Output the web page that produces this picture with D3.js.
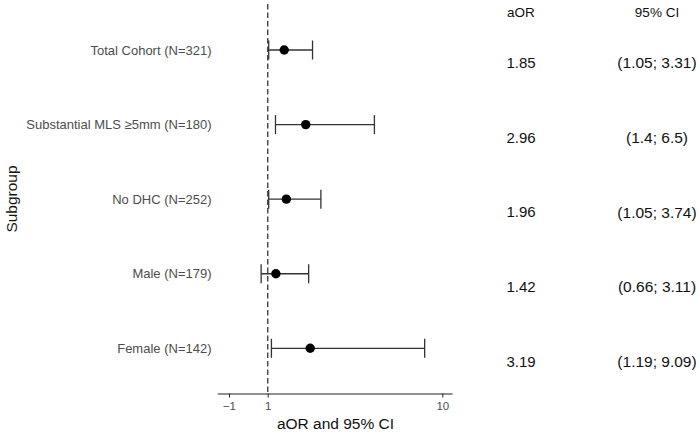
<!DOCTYPE html>
<html>
<head>
<meta charset="utf-8">
<script src="https://cdn.jsdelivr.net/npm/d3@7"></script>
<style>
  body { margin: 0; background: #fff; }
  svg { font-family: "Liberation Sans", Arial, sans-serif; }
</style>
</head>
<body>
<div id="chart"></div>
<script>
const width = 700, height = 437

var subgroups = ["Total Cohort (N=321)", "Substantial MLS \u22655mm (N=180)", "No DHC (N=252)", "Male (N=179)", "Female (N=142)"]
var aor = [1.85, 2.96, 1.96, 1.42, 3.19]
var lower = [1.05, 1.4, 1.05, 0.66, 1.19]
var upper = [3.31, 6.5, 3.74, 3.11, 9.09]
var ciText = ["(1.05; 3.31)", "(1.4; 6.5)", "(1.05; 3.74)", "(0.66; 3.11)", "(1.19; 9.09)"]
var xTicks = [-1, 1, 10]

const rows = subgroups.map((s, i) => ({ name: s, aor: aor[i], lo: lower[i], hi: upper[i], ci: ciText[i] }))

const svg = d3.select("#chart").append("svg")
  .attr("width", width)
  .attr("height", height)

const x = d3.scaleLinear().domain([-1.6, 10.5]).range([217.3, 452])
const y = d3.scalePoint().domain(subgroups).range([50, 348.3])
const axisY = 393.5

// x axis
const xAxis = svg.append("g")
  .attr("transform", `translate(0, ${axisY})`)
  .call(d3.axisBottom(x).tickValues(xTicks).tickSize(4).tickSizeOuter(0).tickFormat(d3.format("d")))
xAxis.select(".domain").attr("stroke", "#222").attr("stroke-width", 1.2)
xAxis.selectAll(".tick line").attr("stroke", "#222")
xAxis.selectAll("text")
  .attr("fill", "#4d4d4d")
  .style("font-size", "11.5px")
  .attr("y", 8)

// reference line at 1
svg.append("line")
  .attr("x1", x(1)).attr("x2", x(1))
  .attr("y1", 4).attr("y2", axisY)
  .attr("stroke", "#444")
  .attr("stroke-width", 1.4)
  .attr("stroke-dasharray", "5.5,3")

// error bars
const g = svg.selectAll(".row").data(rows).enter().append("g").attr("class", "row")
g.append("line")
  .attr("x1", d => x(d.lo)).attr("x2", d => x(d.hi))
  .attr("y1", d => y(d.name)).attr("y2", d => y(d.name))
  .attr("stroke", "#333").attr("stroke-width", 1.3)
g.append("line")
  .attr("x1", d => x(d.lo)).attr("x2", d => x(d.lo))
  .attr("y1", d => y(d.name) - 9.5).attr("y2", d => y(d.name) + 9.5)
  .attr("stroke", "#333").attr("stroke-width", 1.3)
g.append("line")
  .attr("x1", d => x(d.hi)).attr("x2", d => x(d.hi))
  .attr("y1", d => y(d.name) - 9.5).attr("y2", d => y(d.name) + 9.5)
  .attr("stroke", "#333").attr("stroke-width", 1.3)
g.append("circle")
  .attr("cx", d => x(d.aor))
  .attr("cy", d => y(d.name))
  .attr("r", 4.7)
  .attr("fill", "#000")

// subgroup labels
g.append("text")
  .attr("x", 211.5)
  .attr("y", d => y(d.name))
  .attr("dy", "0.35em")
  .attr("text-anchor", "end")
  .attr("fill", "#4d4d4d")
  .style("font-size", "13px")
  .text(d => d.name)

// value columns
g.append("text")
  .attr("x", 521)
  .attr("y", d => y(d.name) + 13)
  .attr("dy", "0.35em")
  .attr("text-anchor", "middle")
  .attr("fill", "#111")
  .style("font-size", "15px")
  .text(d => d.aor.toFixed(2))
g.append("text")
  .attr("x", 657)
  .attr("y", d => y(d.name) + 13)
  .attr("dy", "0.35em")
  .attr("text-anchor", "middle")
  .attr("fill", "#111")
  .style("font-size", "15.5px")
  .text(d => d.ci)

// headers
svg.append("text")
  .attr("x", 521).attr("y", 12).attr("dy", "0.35em")
  .attr("text-anchor", "middle")
  .attr("fill", "#111")
  .style("font-size", "13.5px")
  .text("aOR")
svg.append("text")
  .attr("x", 657).attr("y", 12).attr("dy", "0.35em")
  .attr("text-anchor", "middle")
  .attr("fill", "#111")
  .style("font-size", "13.5px")
  .text("95% CI")

// axis titles
svg.append("text")
  .attr("x", 335.5).attr("y", 424).attr("dy", "0.35em")
  .attr("text-anchor", "middle")
  .attr("fill", "#111")
  .style("font-size", "15.5px")
  .text("aOR and 95% CI")
svg.append("text")
  .attr("transform", "translate(12, 199) rotate(-90)")
  .attr("dy", "0.35em")
  .attr("text-anchor", "middle")
  .attr("fill", "#111")
  .style("font-size", "15.5px")
  .text("Subgroup")
</script>
</body>
</html>
